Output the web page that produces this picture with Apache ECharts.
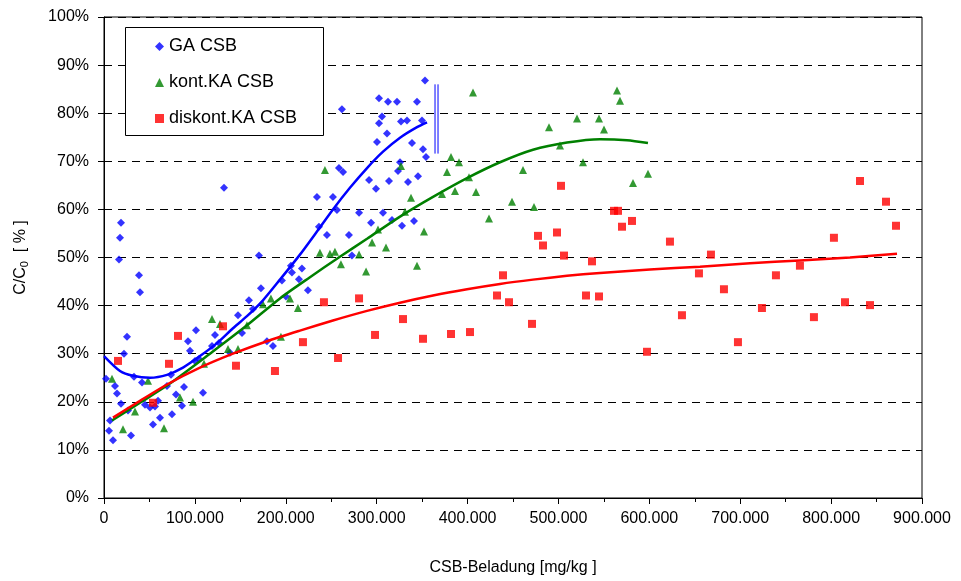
<!DOCTYPE html>
<html>
<head>
<meta charset="utf-8">
<script src="https://cdn.jsdelivr.net/npm/echarts@6/dist/echarts.min.js"></script>
<style>html,body{margin:0;padding:0;background:#fff;}#c{width:961px;height:581px;}</style>
</head>
<body>
<div id="c"></div>
<script>
// X values in mg/kg, Y values in %
const gaCSB = [[2200,24.8],[12100,23.3],[14300,21.7],[18700,19.6],[6600,16.1],[5500,14.0],[9900,12.0],[29700,13.0],[26400,18.2],[33000,25.2],[41800,24.0],[45100,19.4],[50600,18.8],[56100,19.0],[59400,20.2],[53900,15.3],[61600,16.7],[74800,17.4],[69300,23.3],[73700,25.6],[79200,21.5],[85800,19.2],[88000,23.1],[108900,21.9],[25300,33.5],[22000,30.0],[92400,32.6],[94600,30.6],[101200,34.9],[100100,28.5],[104500,28.9],[118800,31.6],[122100,33.9],[126500,32.2],[138600,30.2],[151800,34.3],[179300,32.6],[185900,31.6],[132000,64.5],[18700,57.2],[17600,54.1],[16500,49.6],[38500,46.3],[39600,42.8],[170500,50.4],[172700,43.6],[159500,41.1],[147400,38.0],[163900,39.3],[195800,45.2],[200200,41.9],[205700,48.3],[206800,46.9],[214500,45.5],[217800,47.7],[224400,43.2],[234300,62.6],[251900,62.6],[256300,59.9],[236500,56.4],[245300,54.7],[269500,54.7],[353200,86.8],[302600,83.1],[312500,82.4],[322400,82.4],[344400,82.4],[261800,80.8],[305900,79.3],[302600,77.9],[326800,78.3],[333400,78.5],[349900,78.5],[311400,75.8],[300400,74.0],[338900,73.8],[351000,72.5],[354300,70.9],[325700,69.8],[258500,68.6],[263000,67.8],[323500,68.0],[345500,66.9],[291600,66.1],[313600,65.9],[334500,65.7],[299300,64.3],[280600,59.3],[307000,59.3],[293800,57.2],[316900,57.8],[341100,57.6],[327900,56.6],[272800,50.4]];
const kontKA = [[8800,24.8],[48400,24.4],[34100,18.0],[20900,14.3],[66000,14.5],[83600,20.9],[97900,20.0],[110000,27.9],[136400,31.0],[147400,31.0],[118800,37.2],[127600,36.2],[157300,35.9],[174900,40.3],[183700,41.5],[204600,41.5],[213400,39.5],[194700,33.5],[237600,51.0],[248600,50.8],[254100,51.2],[260700,48.6],[280600,50.6],[288300,47.1],[294900,53.1],[310300,52.1],[344400,48.3],[406000,84.3],[243100,68.2],[326800,69.0],[381800,70.9],[390600,69.8],[377400,67.8],[401600,66.7],[409300,63.6],[386200,63.8],[371900,63.2],[337800,62.4],[423600,58.1],[352100,55.4],[301500,55.8],[564400,84.7],[567700,82.6],[520400,78.9],[544600,78.9],[489600,77.1],[550100,76.6],[501700,73.3],[527000,69.8],[461000,68.2],[598500,67.4],[582000,65.5],[448900,61.6],[473100,60.5],[331200,59.5]];
const diskontKA = [[15400,28.5],[53900,19.8],[71500,27.9],[81400,33.7],[130900,35.7],[145200,27.5],[188100,26.4],[218900,32.4],[257500,29.1],[242000,40.7],[280600,41.5],[329000,37.2],[298200,33.9],[351000,33.1],[381800,34.1],[402700,34.5],[502800,64.9],[561100,59.7],[565500,59.7],[569900,56.4],[580900,57.6],[477500,54.5],[483000,52.5],[498400,55.2],[506100,50.4],[536900,49.2],[622700,53.3],[439000,46.3],[432400,42.1],[445600,40.7],[530300,42.1],[544600,41.9],[470900,36.2],[635900,38.0],[597400,30.4],[654600,46.7],[667800,50.6],[682100,43.4],[739300,46.3],[765700,48.3],[803100,54.1],[831800,65.9],[860400,61.6],[871400,56.6],[723900,39.5],[781100,37.6],[815300,40.7],[842800,40.1],[697500,32.4]];
// trend curves
const gaTrend = [[0,29.5],[17600,26.4],[31900,25.4],[50600,25.0],[69300,25.6],[86900,27.1],[105600,29.5],[124300,32.2],[141900,35.3],[157300,37.8],[174900,41.1],[193600,45.4],[215600,50.6],[234300,55.4],[251900,60.0],[270600,64.5],[289400,68.6],[307000,72.0],[325700,74.9],[344400,77.1],[355400,78.1]];
const kontTrend = [[8800,16.1],[39600,19.8],[72600,23.8],[116600,30.0],[157300,35.9],[193600,41.5],[226600,45.9],[257500,49.9],[289400,53.9],[325700,58.5],[362000,62.6],[399400,66.5],[435700,69.8],[472000,72.4],[509400,73.9],[545700,74.6],[575400,74.4],[598500,73.8]];
const diskontTrend = [[9900,16.7],[39600,20.2],[69300,23.6],[105600,27.1],[141900,30.0],[179300,32.6],[215600,34.8],[251900,36.9],[289400,38.9],[325700,40.6],[362000,42.1],[399400,43.4],[435700,44.5],[472000,45.4],[509400,46.2],[545700,46.8],[600700,47.5],[655700,48.1],[710700,48.8],[765700,49.4],[820800,50.0],[872500,50.8]];
const breakLine1 = [[364200,86.0],[364200,71.6]];
const breakLine2 = [[367500,86.0],[367500,71.6]];
const xTickLabels = ['0','100.000','200.000','300.000','400.000','500.000','600.000','700.000','800.000','900.000'];
const seriesNames = ['GA CSB','kont.KA CSB','diskont.KA CSB'];

const FONT = 'Liberation Sans, Arial, sans-serif';
const chart = echarts.init(document.getElementById('c'), null, {renderer:'canvas'});
chart.setOption({
  animation: false,
  backgroundColor: '#fff',
  textStyle: {fontFamily: FONT},
  grid: {left: 104, right: 39, top: 17, bottom: 80, show: true, borderColor: '#000', borderWidth: 1, containLabel: false},
  graphic: [{type:'rect', left:125, top:27, shape:{width:198, height:108}, style:{fill:'#fff', stroke:'#000', lineWidth:1}, z:100}],
  legend: {
    data: seriesNames, orient: 'vertical', left: 150, top: 32, itemGap: 17, itemWidth: 9, itemHeight: 9, z: 101,
    textStyle: {fontFamily: FONT, fontSize: 18, color: '#000', lineHeight: 19}
  },
  xAxis: {
    type: 'value', min: 0, max: 900000, interval: 100000,
    name: 'CSB-Beladung [mg/kg ]', nameLocation: 'middle', nameGap: 62,
    nameTextStyle: {fontFamily: FONT, fontSize: 16, color: '#000'},
    axisLine: {lineStyle: {color: '#000', width: 1}},
    axisTick: {show: true, length: 6, lineStyle: {color: '#000'}},
    minorTick: {show: true, splitNumber: 2, length: 4, lineStyle: {color: '#000'}},
    axisLabel: {fontFamily: FONT, fontSize: 16, color: '#000', margin: 13, formatter: v => xTickLabels[Math.round(v/100000)]},
    splitLine: {show: false}
  },
  yAxis: {
    type: 'value', min: 0, max: 100, interval: 10,
    name: 'C/C{sub|0}  [ % ]', nameLocation: 'middle', nameGap: 74, nameRotate: 90,
    nameTextStyle: {fontFamily: FONT, fontSize: 16, color: '#000', rich: {sub: {fontFamily: FONT, fontSize: 11, color:'#000', padding: [8,0,0,0]}}},
    axisLine: {show: true, lineStyle: {color: '#000', width: 1}},
    axisTick: {show: true, length: 6, lineStyle: {color: '#000'}},
    axisLabel: {fontFamily: FONT, fontSize: 16, color: '#000', margin: 15, formatter: '{value}%'},
    splitLine: {show: true, lineStyle: {color: '#000', type: [8,6], width: 1}}
  },
  series: [
    {name: 'GA CSB', type: 'scatter', data: gaCSB, symbol: 'diamond', symbolSize: 8, itemStyle: {color: '#0000FF'}, z: 3},
    {name: 'kont.KA CSB', type: 'scatter', data: kontKA, symbol: 'triangle', symbolSize: 8, itemStyle: {color: '#008000'}, z: 3},
    {name: 'diskont.KA CSB', type: 'scatter', data: diskontKA, symbol: 'rect', symbolSize: 8, itemStyle: {color: '#FF0000'}, z: 3},
    {name: 'gaTrend', type: 'line', data: gaTrend, smooth: 0.25, showSymbol: false, lineStyle: {color: '#0000FF', width: 2.5}, z: 4},
    {name: 'kontTrend', type: 'line', data: kontTrend, smooth: 0.25, showSymbol: false, lineStyle: {color: '#008000', width: 2.5}, z: 4},
    {name: 'diskontTrend', type: 'line', data: diskontTrend, smooth: 0.25, showSymbol: false, lineStyle: {color: '#FF0000', width: 2.5}, z: 4},
    {name: 'break1', type: 'line', data: breakLine1, showSymbol: false, lineStyle: {color: '#0000FF', width: 1}, z: 4},
    {name: 'break2', type: 'line', data: breakLine2, showSymbol: false, lineStyle: {color: '#0000FF', width: 1}, z: 4}
  ]
});
</script>
</body>
</html>
